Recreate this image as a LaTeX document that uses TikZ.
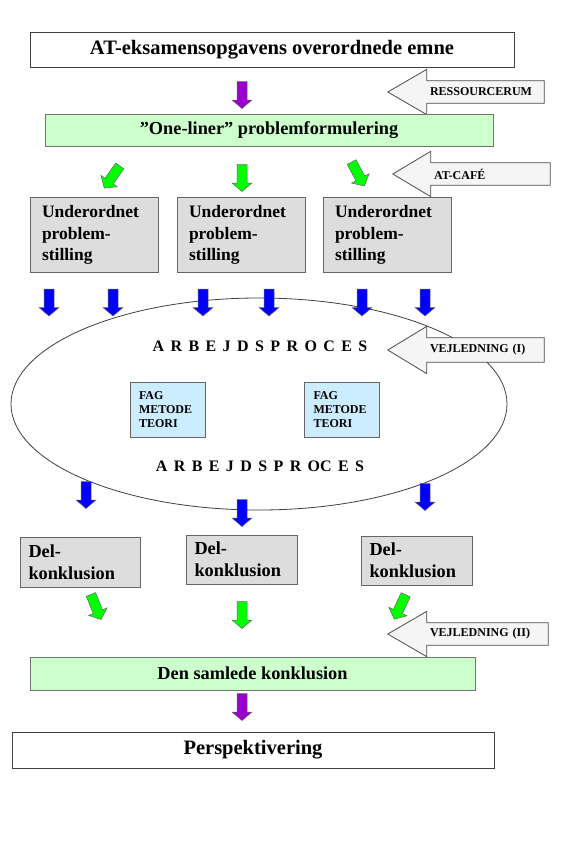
\documentclass[tikz,border=0pt]{standalone}
\usepackage{fontspec}
\setmainfont{Liberation Serif}
\newfontfamily\spacedserif[WordSpace=1.6]{Liberation Serif}
\usetikzlibrary{shapes.geometric,calc,backgrounds}
\definecolor{boxgray}{RGB}{221,221,221}
\definecolor{palegreen}{RGB}{204,255,204}
\definecolor{paleblue}{RGB}{204,236,255}
\definecolor{arrowpurple}{RGB}{153,0,204}
\definecolor{arrowgreen}{RGB}{0,255,0}
\definecolor{arrowblue}{RGB}{0,0,255}
\definecolor{calloutgray}{RGB}{245,245,245}
\newcommand{\fsz}[2]{\fontsize{#1}{#2}\selectfont\bfseries}

\begin{document}
\begin{tikzpicture}[x=1pt, y=-1pt,
  titlebox/.style={draw=black!75, fill=white, line width=0.9pt, minimum height=35pt,
                   inner sep=0pt, font=\fsz{20.5}{24}},
  greenbox/.style={draw=black!55, fill=palegreen, line width=1pt, minimum height=32pt,
                   inner sep=0pt, font=\fsz{18.3}{22}},
  graybox/.style={draw=black!60, fill=boxgray, line width=1pt, align=left,
                  text width=#1, inner ysep=0pt, font=\fsz{17.5}{21.5}},
  fagbox/.style={draw=black!60, fill=paleblue, line width=1pt, align=left,
                 minimum height=55pt, text width=57pt, inner xsep=9pt, inner ysep=0pt,
                 font=\fsz{12}{14}},
  blkarrow/.pic={\draw[pic actions, draw=black!60, line width=0.5pt]
                 (-5,-13.5) -- (5,-13.5) -- (5,5) -- (10,5) -- (0,13.5)
                 -- (-10,5) -- (-5,5) -- cycle;},
  callout/.style={draw=black!70, fill=calloutgray, line width=0.8pt},
  calltext/.style={inner ysep=0pt, inner xsep=3pt, minimum height=22pt, align=left,
                   text width=#1, font=\fsz{12}{13}},
  process/.style={font=\spacedserif\fsz{16}{18}},
]
  \useasboundingbox (0,0) rectangle (560,862);

  % ---- Top: topic and problem formulation ----
  \node[titlebox, minimum width=484pt] (emne) at (272,49.5) {AT-eksamensopgavens overordnede emne};
  \pic[fill=arrowpurple] (pil1) at (242,95) {blkarrow};
  \node[greenbox, minimum width=448pt] (oneliner) at (269,130) {”One-liner” problemformulering};
  \node[calltext=111pt] (ressource) at (485.5,92) {RESSOURCERUM};

  \pic[fill=arrowgreen, rotate=-35] (gr1) at (112,177) {blkarrow};
  \pic[fill=arrowgreen]             (gr2) at (242,178) {blkarrow};
  \pic[fill=arrowgreen, rotate=28]  (gr3) at (358,174) {blkarrow};
  \node[calltext=113pt] (cafe) at (490.5,174) {AT-CAF\'E};

  % ---- Sub problems ----
  \node[graybox=104pt, inner xsep=12pt, minimum height=75pt] (under1) at (94,235) {Underordnet\\problem-\\stilling};
  \node[graybox=104pt, inner xsep=12pt, minimum height=75pt] (under2) at (241,235) {Underordnet\\problem-\\stilling};
  \node[graybox=104pt, inner xsep=12pt, minimum height=75pt] (under3) at (387,235) {Underordnet\\problem-\\stilling};

  \foreach \x [count=\i] in {49,113,203,269,362,425}
    \pic[fill=arrowblue] (blaa\i) at (\x,302.5) {blkarrow};

  % ---- Work process ----
  \node[process] (arb1) at (260,346) {A R B E J D S P R O C E S};
  \node[process] (arb2) at (260,466) {A R B E J D S P R OC E S};
  \node[fagbox] (fag1) at (167.5,409.5) {FAG\\METODE\\TEORI};
  \node[fagbox] (fag2) at (342,409.5) {FAG\\METODE\\TEORI};
  \node[calltext=111pt, minimum height=24pt] (vejl1) at (485.5,350) {VEJLEDNING (I)};

  \pic[fill=arrowblue] (blaa7) at (86,495) {blkarrow};
  \pic[fill=arrowblue] (blaa8) at (242,513) {blkarrow};
  \pic[fill=arrowblue] (blaa9) at (425,497) {blkarrow};

  % ---- Part conclusions ----
  \node[graybox=103pt, inner xsep=8.5pt, minimum height=50pt, font=\fsz{18.3}{22}] (del1) at (80,562) {Del-\\konklusion};
  \node[graybox=94pt, inner xsep=8.5pt, minimum height=49pt, font=\fsz{18.3}{22}] (del2) at (241.5,559.5) {Del-\\konklusion};
  \node[graybox=94pt, inner xsep=8.5pt, minimum height=49pt, font=\fsz{18.3}{22}] (del3) at (416.5,560.5) {Del-\\konklusion};

  \pic[fill=arrowgreen, rotate=22]  (gr4) at (96,607) {blkarrow};
  \pic[fill=arrowgreen]             (gr5) at (242,615) {blkarrow};
  \pic[fill=arrowgreen, rotate=-25] (gr6) at (400,607) {blkarrow};
  \node[calltext=115pt] (vejl2) at (487.5,634) {VEJLEDNING (II)};

  % ---- Bottom ----
  \node[greenbox, minimum width=445pt, minimum height=33pt] (samlet) at (252.5,673.5) {Den samlede konklusion};
  \pic[fill=arrowpurple] (pil2) at (242,707) {blkarrow};
  \node[titlebox, minimum width=482pt, minimum height=36pt] (persp) at (253,750) {Perspektivering};

  % ---- Ellipse and callouts behind ----
  \begin{scope}[on background layer]
    \fill[white] (0,0) rectangle (560,862);
    \node[draw=black!75, line width=0.8pt, ellipse, minimum width=496pt, minimum height=212pt] (proces) at (259,404) {};
    \foreach \c/\len in {ressource/39, cafe/38, vejl1/39, vejl2/39}
      \draw[callout] (\c.north east) -- (\c.north west) -- ++(0,-11.5)
        -- ($(\c.west)+(-\len,0)$) -- ($(\c.south west)+(0,11.5)$)
        -- (\c.south west) -- (\c.south east) -- cycle;
  \end{scope}
\end{tikzpicture}
\end{document}
